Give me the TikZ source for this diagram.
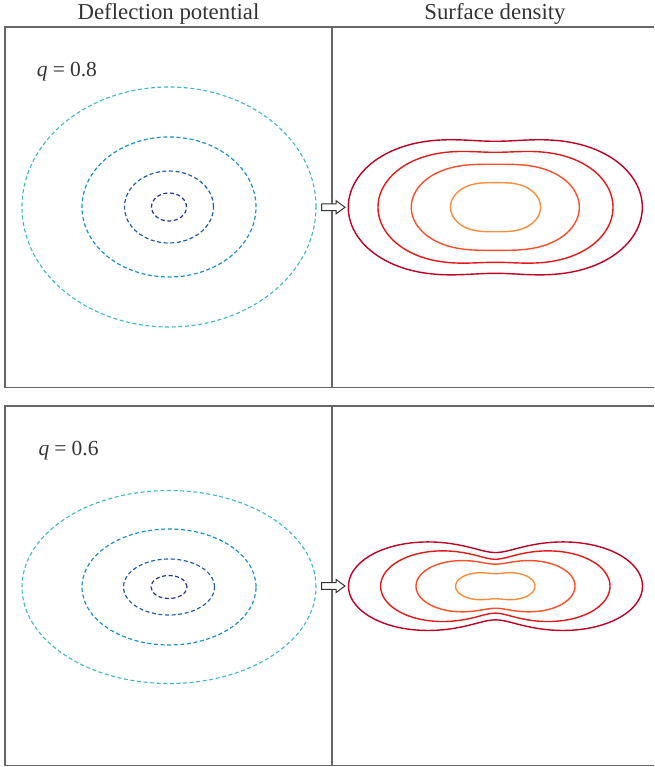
\documentclass[tikz,border=0pt]{standalone}
\usepackage{fontspec}
\setmainfont{Liberation Serif}
\definecolor{ylA}{HTML}{41B6C4}
\definecolor{ylB}{HTML}{1D91C0}
\definecolor{ylC}{HTML}{225EA8}
\definecolor{ylD}{HTML}{253494}
\definecolor{orA}{HTML}{BD0026}
\definecolor{orB}{HTML}{E31A1C}
\definecolor{orC}{HTML}{FC4E2A}
\definecolor{orD}{HTML}{FD8D3C}
\definecolor{framegray}{HTML}{666666}
\definecolor{txtgray}{HTML}{333333}
\tikzset{
  frameline/.style={draw=framegray, line width=1.5pt},
  potline/.style={dash pattern=on 4pt off 2.6pt, line width=1.2pt},
  densline/.style={line width=1.4pt, line join=round},
  titletext/.style={text=txtgray, font=\fontsize{22.8}{22.8}\selectfont, anchor=base, inner sep=0pt},
  qtext/.style={text=txtgray, font=\fontsize{21.5}{21.5}\selectfont, anchor=base west, inner sep=0pt},
  hollowarrow/.pic={
    \draw[draw=txtgray, fill=white, line width=1pt, line join=miter]
      (0,-3.3) -- (14.3,-3.3) -- (14.3,-6.6) -- (23.3,0) -- (14.3,6.6) -- (14.3,3.3) -- (0,3.3) -- cycle;
  }
}
\newcommand\SDcontour[6]{%
  \draw[densline, draw=#6] plot[domain=0:360, samples=241, variable=\t]
    ({#1 + #3*cos(\t)*(1+#4*sin(\t)^2)^(-#5/2)},
     {#2 + #3*sin(\t)*(1+#4*sin(\t)^2)^(-#5/2)}) -- cycle;
}
\begin{document}
\begin{tikzpicture}[x=1pt, y=-1pt]
\useasboundingbox (0,0) rectangle (654,767);
% titles
\node[titletext] (t1) at (168.5,20) {Deflection potential};
\node[titletext] (t2) at (495,20) {Surface density};
% frames
\draw[frameline] (654,27) -- (5,27) -- (5,387.5) -- (654,387.5);
\draw[frameline] (332,27) -- (332,387.5);
\draw[frameline] (654,406) -- (5,406) -- (5,765.5) -- (654,765.5);
\draw[frameline] (332,406) -- (332,765.5);
% labels
\node[qtext] (q1) at (36.7,76.7) {\itshape q\hspace{0.24em}\upshape =\hspace{0.24em}0.8};
\node[qtext] (q2) at (38.3,455) {\itshape q\hspace{0.24em}\upshape =\hspace{0.24em}0.6};
% deflection potential, top
\draw[potline, ylA, line width=1.1pt] (169,207) ellipse [x radius=147pt, y radius=120pt];
\draw[potline, ylB] (169,207) ellipse [x radius=87pt, y radius=70pt];
\draw[potline, ylC] (169,207) ellipse [x radius=44.5pt, y radius=36pt];
\draw[potline, ylD] (169,207) ellipse [x radius=17.5pt, y radius=14pt];
% deflection potential, bottom
\draw[potline, ylA, line width=1.1pt] (169,587) ellipse [x radius=147pt, y radius=96.5pt];
\draw[potline, ylB] (169,587) ellipse [x radius=87pt, y radius=58pt];
\draw[potline, ylC] (169,587) ellipse [x radius=45.5pt, y radius=28pt];
\draw[potline, ylD] (169,587) ellipse [x radius=18pt, y radius=11.5pt];
% surface density, top
\SDcontour{495.3}{207.3}{147}{0.6494}{3.2}{orA}
\SDcontour{495.5}{207.3}{117.5}{0.6073}{3.2}{orB}
\SDcontour{495.3}{207.3}{84}{0.838}{2.2}{orC}
\SDcontour{495.5}{207.2}{45}{0.5}{3}{orD}
% surface density, bottom
\SDcontour{495.5}{586.2}{147}{1.512}{3.2}{orA}
\SDcontour{495.3}{586.2}{114.7}{1.344}{3.4}{orB}
\SDcontour{495.5}{586.2}{79.5}{1.792}{2.5}{orC}
\SDcontour{495.3}{586.2}{39.7}{2.174}{2}{orD}
% arrows
\pic at (321.7,207.3) {hollowarrow};
\pic at (321.7,586) {hollowarrow};
\end{tikzpicture}
\end{document}
